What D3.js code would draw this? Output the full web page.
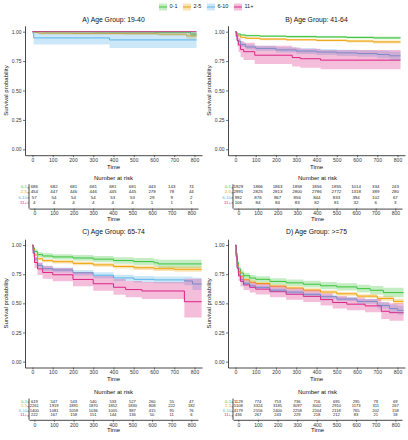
<!DOCTYPE html>
<html><head><meta charset="utf-8">
<script src="https://cdn.jsdelivr.net/npm/d3@7"></script>
<style>body{margin:0;background:#fff} svg{display:block} text{font-family:"Liberation Sans",Arial,sans-serif}</style>
</head><body><svg id="c" width="408" height="440"></svg>
<script>
const groups = ["0-1","2-5","6-10","11+"];
const timeTicks = [0,100,200,300,400,500,600,700,800];
const probTicks = [0,0.25,0.5,0.75,1];
const panelTitles = ["A) Age Group: 19-40","B) Age Group: 41-64","C) Age Group: 65-74","D) Age Group: >=75"];
const endTimes = [810, 815, 835, 830];

// survival steps: [time, survival, lower, upper]
const survA_01 = [[0,1,1,1],[60,0.9985,0.996,1],[300,0.997,0.993,1],[600,0.995,0.989,1],[780,0.98,0.96,1]];
const survA_25 = [[0,1,1,1],[10,0.993,0.985,1],[30,0.987,0.977,0.997],[200,0.985,0.974,0.996],[450,0.983,0.971,0.995],[620,0.979,0.965,0.993],[760,0.965,0.94,0.99]];
const survA_610 = [[0,1,1,1],[3,0.982,0.948,1],[6,0.947,0.89,1],[380,0.93,0.862,1]];
const survA_11 = [[0,1,1,1]];

const survB_01 = [[0,1,1,1],[3,0.99,0.986,0.994],[10,0.98,0.974,0.986],[25,0.972,0.965,0.979],[50,0.966,0.958,0.974],[120,0.962,0.954,0.97],[250,0.958,0.949,0.967],[400,0.955,0.946,0.964],[550,0.951,0.941,0.961],[680,0.947,0.936,0.958]];
const survB_25 = [[0,1,1,1],[3,0.985,0.981,0.989],[10,0.965,0.958,0.972],[25,0.952,0.944,0.96],[50,0.944,0.936,0.952],[120,0.937,0.928,0.946],[250,0.931,0.922,0.94],[400,0.926,0.916,0.936],[550,0.92,0.909,0.931],[680,0.913,0.9,0.926]];
const survB_610 = [[0,1,1,1],[3,0.96,0.948,0.972],[10,0.92,0.903,0.937],[25,0.89,0.87,0.91],[50,0.87,0.848,0.892],[100,0.858,0.836,0.88],[200,0.845,0.822,0.868],[300,0.835,0.811,0.859],[400,0.827,0.802,0.852],[500,0.82,0.794,0.846],[600,0.814,0.786,0.842],[700,0.806,0.774,0.838],[760,0.795,0.758,0.832]];
const survB_11 = [[0,1,1,1],[4,0.962,0.926,1],[8,0.925,0.876,0.977],[15,0.887,0.828,0.95],[25,0.849,0.783,0.92],[40,0.83,0.76,0.905],[95,0.8,0.725,0.88],[280,0.78,0.705,0.865],[320,0.77,0.693,0.855],[420,0.758,0.68,0.845]];

const survC_01 = [[0,1,1,1],[3,0.975,0.962,0.988],[10,0.945,0.927,0.963],[25,0.918,0.897,0.94],[50,0.906,0.884,0.929],[100,0.898,0.875,0.922],[200,0.889,0.865,0.914],[300,0.879,0.853,0.905],[400,0.867,0.84,0.895],[500,0.858,0.829,0.888],[600,0.848,0.817,0.88],[620,0.838,0.803,0.874]];
const survC_25 = [[0,1,1,1],[3,0.965,0.957,0.973],[10,0.915,0.903,0.927],[25,0.882,0.869,0.896],[50,0.866,0.852,0.88],[100,0.857,0.842,0.872],[200,0.843,0.827,0.859],[300,0.83,0.813,0.847],[400,0.816,0.798,0.834],[500,0.805,0.786,0.824],[600,0.797,0.777,0.818],[700,0.792,0.77,0.815]];
const survC_610 = [[0,1,1,1],[3,0.95,0.939,0.961],[10,0.88,0.863,0.897],[25,0.825,0.805,0.845],[50,0.798,0.777,0.82],[100,0.786,0.764,0.808],[200,0.762,0.739,0.786],[300,0.741,0.716,0.766],[400,0.718,0.692,0.745],[500,0.706,0.679,0.734],[600,0.701,0.672,0.731],[750,0.692,0.655,0.73],[790,0.666,0.615,0.72]];
const survC_11 = [[0,1,1,1],[3,0.93,0.897,0.964],[10,0.85,0.804,0.898],[25,0.795,0.744,0.85],[50,0.765,0.711,0.822],[100,0.745,0.69,0.804],[200,0.705,0.647,0.768],[300,0.668,0.607,0.735],[400,0.638,0.574,0.708],[460,0.618,0.552,0.691],[540,0.606,0.538,0.682],[750,0.514,0.378,0.71]];

const survD_01 = [[0,1,1,1],[3,0.93,0.915,0.945],[8,0.85,0.829,0.871],[15,0.795,0.771,0.819],[25,0.76,0.735,0.785],[40,0.737,0.711,0.763],[70,0.717,0.69,0.744],[100,0.706,0.679,0.733],[170,0.688,0.66,0.716],[250,0.676,0.648,0.705],[335,0.664,0.635,0.694],[420,0.651,0.621,0.682],[500,0.641,0.61,0.673],[600,0.626,0.593,0.66],[665,0.612,0.576,0.649],[730,0.592,0.552,0.634]];
const survD_25 = [[0,1,1,1],[3,0.92,0.913,0.927],[8,0.83,0.82,0.84],[15,0.772,0.76,0.784],[25,0.732,0.72,0.745],[40,0.703,0.69,0.716],[70,0.682,0.669,0.695],[100,0.67,0.657,0.683],[170,0.648,0.634,0.662],[250,0.632,0.618,0.646],[335,0.614,0.6,0.629],[420,0.597,0.582,0.612],[500,0.582,0.566,0.598],[600,0.562,0.545,0.579],[700,0.542,0.523,0.561],[780,0.517,0.495,0.54]];
const survD_610 = [[0,1,1,1],[3,0.91,0.902,0.918],[8,0.81,0.798,0.822],[15,0.748,0.735,0.761],[25,0.703,0.689,0.717],[40,0.672,0.657,0.687],[70,0.65,0.635,0.665],[100,0.637,0.622,0.652],[170,0.613,0.597,0.629],[250,0.596,0.58,0.612],[335,0.577,0.56,0.594],[420,0.557,0.539,0.575],[500,0.537,0.518,0.556],[600,0.517,0.496,0.538],[700,0.482,0.455,0.51],[760,0.455,0.423,0.49],[800,0.44,0.403,0.48]];
const survD_11 = [[0,1,1,1],[3,0.9,0.872,0.93],[8,0.8,0.763,0.838],[15,0.735,0.694,0.777],[25,0.688,0.645,0.732],[40,0.658,0.614,0.703],[70,0.637,0.592,0.684],[100,0.622,0.576,0.67],[170,0.6,0.553,0.65],[250,0.578,0.53,0.629],[335,0.56,0.511,0.612],[420,0.532,0.481,0.587],[480,0.507,0.455,0.563],[550,0.493,0.44,0.55],[640,0.478,0.423,0.538],[720,0.432,0.365,0.51],[760,0.42,0.35,0.5]];

// numbers at risk at timeTicks
const riskA_01 = [686,682,681,681,681,681,443,143,74];
const riskA_25 = [454,447,446,446,445,445,278,78,44];
const riskA_610 = [57,54,54,54,53,53,29,9,2];
const riskA_11 = [4,4,4,4,4,4,1,1,1];
const riskB_01 = [1929,1866,1863,1858,1856,1855,1014,334,243];
const riskB_25 = [2991,2825,2813,2800,2786,2772,1318,389,280];
const riskB_610 = [992,876,867,856,844,833,394,102,67];
const riskB_11 = [106,84,84,83,82,81,32,6,3];
const riskC_01 = [619,547,543,540,533,527,260,55,47];
const riskC_25 = [2261,1919,1891,1870,1852,1830,808,222,182];
const riskC_610 = [1400,1081,1059,1036,1005,987,415,95,76];
const riskC_11 = [222,167,158,151,144,136,50,11,6];
const riskD_01 = [1129,774,753,736,716,695,295,79,69];
const riskD_25 = [5108,3324,3185,3097,3002,2910,1173,311,267];
const riskD_610 = [4179,2556,2400,2258,2204,2118,765,202,158];
const riskD_11 = [436,267,243,229,218,212,83,21,18];

// styles
const colors = ["#3CC43C","#F0A30A","#56B4E9","#DB2386"];
const ribbonOpacity = 0.3;

const panels = [
  {surv:[survA_01,survA_25,survA_610,survA_11], risk:[riskA_01,riskA_25,riskA_610,riskA_11]},
  {surv:[survB_01,survB_25,survB_610,survB_11], risk:[riskB_01,riskB_25,riskB_610,riskB_11]},
  {surv:[survC_01,survC_25,survC_610,survC_11], risk:[riskC_01,riskC_25,riskC_610,riskC_11]},
  {surv:[survD_01,survD_25,survD_610,survD_11], risk:[riskD_01,riskD_25,riskD_610,riskD_11]}
];

const svg = d3.select("#c");
const colX = [25, 228], plotW = 177;
const tabX = [29, 233], tabW = 169;
const rowG = [
  {title:20, yTop:25.8, yBot:155.2, nrTitle:178, r0:187.3, r1:202.4, tAxis:208.6, fs:4.4},
  {title:232, yTop:239.2, yBot:367.5, nrTitle:392.3, r0:401.6, r1:415.4, tAxis:419.8, fs:4.1}
];
const axisCol = "#333";

function styleAxis(g, fs){
  g.select(".domain").attr("stroke", axisCol).attr("stroke-width", 0.9);
  g.selectAll(".tick line").attr("stroke", axisCol).attr("stroke-width", 0.7);
  g.selectAll(".tick text").attr("fill", "#333").style("font-size", fs+"px").attr("font-family", null);
}

panels.forEach((p, i) => {
  const col = i % 2, row = Math.floor(i / 2);
  const R = rowG[row];
  const ax = colX[col];
  const x = d3.scaleLinear().domain([-37, 837]).range([ax, ax + plotW]);
  const y = d3.scaleLinear().domain([-0.05, 1.05]).range([R.yBot, R.yTop]);
  const tEnd = endTimes[i];

  svg.append("text").attr("x", ax + plotW/2).attr("y", R.title).attr("text-anchor","middle")
    .attr("dominant-baseline","middle").style("font-size","6.8px").attr("fill","#111").text(panelTitles[i]);

  const g = svg.append("g");
  const line = d3.line().x(d => x(d[0])).y(d => y(d[1])).curve(d3.curveStepAfter);
  const area = d3.area().x(d => x(d[0])).y0(d => y(d[2])).y1(d => y(d[3])).curve(d3.curveStepAfter);
  const ext = p.surv.map(s => s.concat([[tEnd, s[s.length-1][1], s[s.length-1][2], s[s.length-1][3]]]));
  ext.forEach((s, k) => {
    g.append("path").attr("d", line(s)).attr("fill","none").attr("stroke", colors[k]).attr("stroke-width", 1);
  });
  ext.forEach((s, k) => {
    g.append("path").attr("d", area(s)).attr("fill", colors[k]).attr("fill-opacity", ribbonOpacity).attr("stroke","none");
  });

  const gy = svg.append("g").attr("transform", `translate(${ax},0)`)
    .call(d3.axisLeft(y).tickValues(probTicks).tickFormat(d3.format(".2f")).tickSize(2).tickPadding(1.5).tickSizeOuter(0));
  styleAxis(gy, 5);
  const gx = svg.append("g").attr("transform", `translate(0,${R.yBot})`)
    .call(d3.axisBottom(x).tickValues(timeTicks).tickSize(2).tickPadding(1.2).tickSizeOuter(0));
  styleAxis(gx, 5);

  svg.append("text").attr("x", ax + plotW/2).attr("y", R.yBot + 12).attr("text-anchor","middle")
    .attr("dominant-baseline","middle").style("font-size","6px").attr("fill","#111").text("Time");
  svg.append("text").attr("transform", `translate(${ax - 19},${y(0.5)}) rotate(-90)`).attr("text-anchor","middle")
    .attr("dominant-baseline","middle").style("font-size","6px").attr("fill","#111").text("Survival probability");

  // risk table
  const tx = tabX[col];
  const xt = d3.scaleLinear().domain([-27, 834]).range([tx, tx + tabW]);
  const yr = d3.scalePoint().domain(groups).range([R.r0, R.r1]);
  svg.append("text").attr("x", tx + tabW/2).attr("y", R.nrTitle).attr("text-anchor","middle")
    .attr("dominant-baseline","middle").style("font-size","6px").attr("fill","#111").text("Number at risk");
  const gtx = svg.append("g").attr("transform", `translate(0,${R.tAxis})`)
    .call(d3.axisBottom(xt).tickValues(timeTicks).tickSize(2).tickPadding(1.2).tickSizeOuter(0));
  styleAxis(gtx, 5);
  const gty = svg.append("g").attr("transform", `translate(${tx},0)`)
    .call(d3.axisLeft(yr).tickSize(1.5).tickFormat(""));
  gty.select(".domain").remove();
  gty.selectAll(".tick line").attr("stroke", axisCol).attr("stroke-width", 0.6);
  svg.append("line").attr("x1", tx).attr("x2", tx).attr("y1", R.r0 - 3).attr("y2", R.tAxis)
    .attr("stroke", axisCol).attr("stroke-width", 0.9);
  groups.forEach((gname, k) => {
    svg.append("text").attr("x", tx - 2).attr("y", yr(gname)).attr("text-anchor","end")
      .attr("dominant-baseline","middle").style("font-size", R.fs + "px").attr("fill", colors[k]).text(gname);
    p.risk[k].forEach((v, j) => {
      svg.append("text").attr("x", xt(timeTicks[j])).attr("y", yr(gname)).attr("text-anchor","middle")
        .attr("dominant-baseline","middle").style("font-size", R.fs + "px").attr("fill","#222").text(v);
    });
  });
  svg.append("text").attr("x", tx + tabW/2).attr("y", R.tAxis + 11).attr("text-anchor","middle")
    .attr("dominant-baseline","middle").style("font-size","6px").attr("fill","#111").text("Time");
});

// legend
let lx = 159;
const leg = svg.append("g");
groups.forEach((gname, k) => {
  leg.append("rect").attr("x", lx).attr("y", 3.5).attr("width", 8).attr("height", 7)
    .attr("fill", colors[k]).attr("fill-opacity", ribbonOpacity);
  leg.append("line").attr("x1", lx).attr("x2", lx + 8).attr("y1", 7).attr("y2", 7)
    .attr("stroke", colors[k]).attr("stroke-width", 1);
  const t = leg.append("text").attr("x", lx + 10.5).attr("y", 7).attr("dominant-baseline","middle")
    .style("font-size","5.5px").attr("fill","#222").text(gname);
  lx += 10.5 + t.node().getComputedTextLength() + 5.5;
});
</script></body></html>
